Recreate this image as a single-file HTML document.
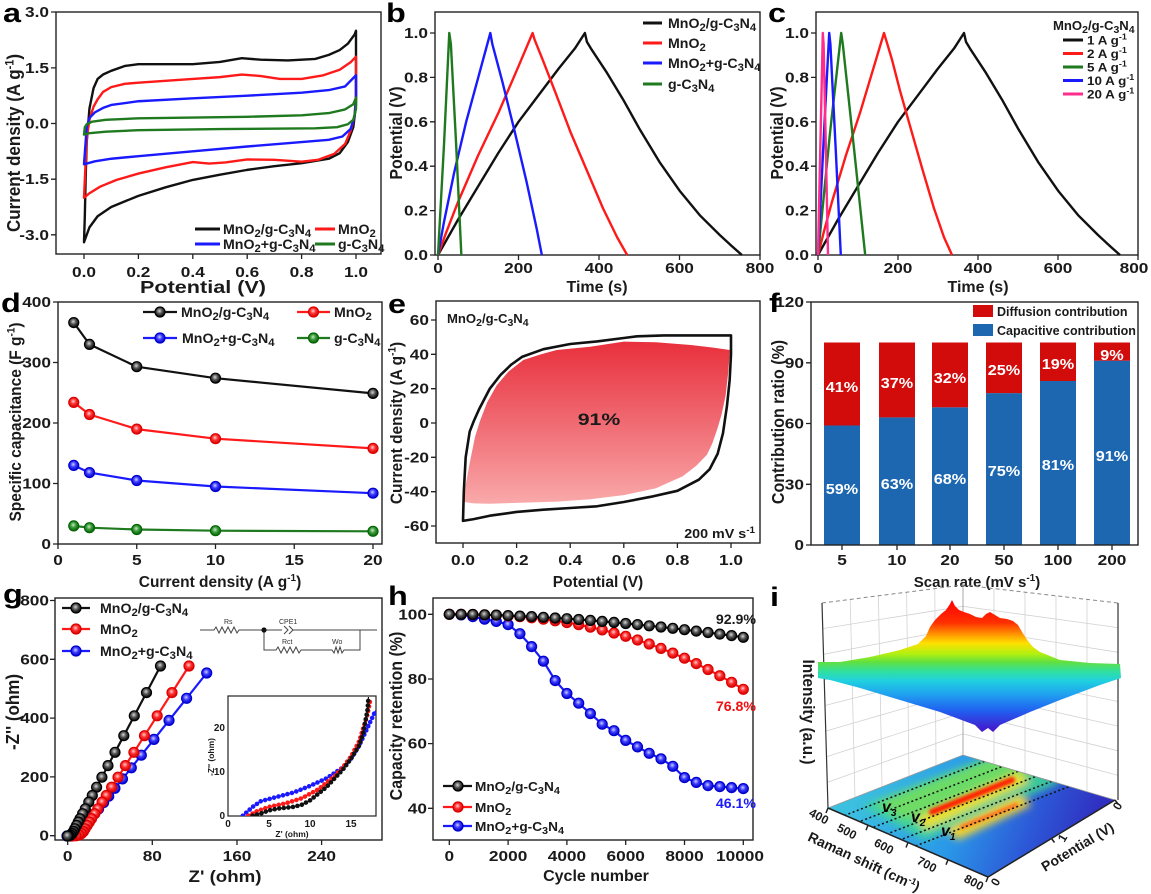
<!DOCTYPE html>
<html><head><meta charset="utf-8">
<style>
html,body{margin:0;padding:0;background:#fff;overflow:hidden}
svg{display:block}
text{font-family:"Liberation Sans",Arial,sans-serif;font-weight:bold;fill:#1a1a1a}
.tk{font-size:15px}
.pl{font-size:27px;fill:#000}
.ax{fill:none;stroke:#222;stroke-width:1.4}
.tm{fill:none;stroke:#222;stroke-width:1.3}
.ns{vector-effect:non-scaling-stroke;fill:none;stroke-width:2.4;stroke-linejoin:round}
.pk{fill:none;stroke-width:2.2;stroke-linejoin:round}
.lgl{stroke-width:3}
</style></head><body>
<svg width="1151" height="894" viewBox="0 0 1151 894" xmlns="http://www.w3.org/2000/svg">
<defs>
<radialGradient id="gK" cx="0.45" cy="0.4" r="0.6"><stop offset="0" stop-color="#d8d8d8"/><stop offset="0.45" stop-color="#555"/><stop offset="1" stop-color="#000"/></radialGradient>
<radialGradient id="gR" cx="0.45" cy="0.4" r="0.6"><stop offset="0" stop-color="#ffd0d0"/><stop offset="0.45" stop-color="#ff3030"/><stop offset="1" stop-color="#d00000"/></radialGradient>
<radialGradient id="gB" cx="0.45" cy="0.4" r="0.6"><stop offset="0" stop-color="#d0d0ff"/><stop offset="0.45" stop-color="#3a3aff"/><stop offset="1" stop-color="#0000c8"/></radialGradient>
<radialGradient id="gG" cx="0.45" cy="0.4" r="0.6"><stop offset="0" stop-color="#c8e8c8"/><stop offset="0.45" stop-color="#3a9a3a"/><stop offset="1" stop-color="#0a600a"/></radialGradient>
<marker id="mK" viewBox="-7 -7 14 14" markerWidth="14" markerHeight="14" markerUnits="userSpaceOnUse" refX="0" refY="0"><circle r="5" fill="url(#gK)" stroke="#000" stroke-width="1.2"/></marker>
<marker id="mR" viewBox="-7 -7 14 14" markerWidth="14" markerHeight="14" markerUnits="userSpaceOnUse" refX="0" refY="0"><circle r="5" fill="url(#gR)" stroke="#d00" stroke-width="1.2"/></marker>
<marker id="mB" viewBox="-7 -7 14 14" markerWidth="14" markerHeight="14" markerUnits="userSpaceOnUse" refX="0" refY="0"><circle r="5" fill="url(#gB)" stroke="#00c" stroke-width="1.2"/></marker>
<marker id="mG" viewBox="-7 -7 14 14" markerWidth="14" markerHeight="14" markerUnits="userSpaceOnUse" refX="0" refY="0"><circle r="5" fill="url(#gG)" stroke="#060" stroke-width="1.2"/></marker>
<linearGradient id="eg" x1="0" y1="0" x2="0" y2="1"><stop offset="0" stop-color="#f9a9aa"/><stop offset="0.5" stop-color="#f06a72"/><stop offset="1" stop-color="#e8303c"/></linearGradient>
<linearGradient id="fl" gradientUnits="userSpaceOnUse" x1="860" y1="780" x2="1080" y2="860"><stop offset="0" stop-color="#3cc0e0"/><stop offset="0.45" stop-color="#2a98e8"/><stop offset="0.75" stop-color="#2c5ad8"/><stop offset="1" stop-color="#3030c0"/></linearGradient>
<linearGradient id="sg" gradientUnits="userSpaceOnUse" x1="0" y1="600" x2="0" y2="735"><stop offset="0" stop-color="#ff0000"/><stop offset="0.17" stop-color="#ff3000"/><stop offset="0.25" stop-color="#ff9000"/><stop offset="0.32" stop-color="#ffe000"/><stop offset="0.4" stop-color="#b0f010"/><stop offset="0.46" stop-color="#60e040"/><stop offset="0.53" stop-color="#30e0a0"/><stop offset="0.6" stop-color="#20d0e0"/><stop offset="0.7" stop-color="#20a0f0"/><stop offset="0.82" stop-color="#2060f0"/><stop offset="0.95" stop-color="#4020d0"/><stop offset="1" stop-color="#6010c0"/></linearGradient>
<clipPath id="fc"><polygon points="828,808 963,755 1115,800 988,877"/></clipPath>
<clipPath id="ic"><rect x="228" y="696" width="148" height="120"/></clipPath>
<filter id="bl" x="-20%" y="-20%" width="140%" height="140%"><feGaussianBlur stdDeviation="4"/></filter>
<filter id="bl2" x="-20%" y="-50%" width="140%" height="200%"><feGaussianBlur stdDeviation="1.5"/></filter>
</defs>
<rect width="1151" height="894" fill="#fff"/>

<!-- ================= PANEL A ================= -->
<text class="pl" transform="translate(3,22) scale(1.2,1)">a</text>
<rect class="ax" x="56" y="12" width="325" height="242"/>
<path class="tm" d="M51,12H56M51,67.9H56M51,123.5H56M51,179.2H56M51,234.8H56M84,254V259M138.4,254V259M192.8,254V259M247.2,254V259M301.6,254V259M356,254V259"/>
<g class="tk" text-anchor="end">
<text transform="translate(49,17) scale(1.15,1)">3.0</text>
<text transform="translate(49,72.9) scale(1.15,1)">1.5</text>
<text transform="translate(49,128.5) scale(1.15,1)">0.0</text>
<text transform="translate(49,184.2) scale(1.15,1)">-1.5</text>
<text transform="translate(49,239.8) scale(1.15,1)">-3.0</text>
</g>
<g class="tk" text-anchor="middle">
<text transform="translate(84,277) scale(1.15,1)">0.0</text>
<text transform="translate(138.4,277) scale(1.15,1)">0.2</text>
<text transform="translate(192.8,277) scale(1.15,1)">0.4</text>
<text transform="translate(247.2,277) scale(1.15,1)">0.6</text>
<text transform="translate(301.6,277) scale(1.15,1)">0.8</text>
<text transform="translate(356,277) scale(1.15,1)">1.0</text>
</g>
<text font-size="18" text-anchor="middle" transform="translate(203,293) scale(1.2,1)">Potential (V)</text>
<text font-size="17" text-anchor="middle" transform="translate(20,143) rotate(-90) scale(1,1.1)">Current density (A g<tspan dy="-6" font-size="11">-1</tspan><tspan dy="6">)</tspan></text>
<g transform="translate(84,123.5) scale(272,-37.1)">
<path class="ns" stroke="#111" d="M0,-3.2 L0.003,-2.5 L0.006,-1.5 L0.01,-0.5 L0.02,0.4 L0.035,0.95 L0.05,1.2 L0.07,1.32 L0.1,1.42 L0.15,1.55 L0.2,1.6 L0.3,1.6 L0.4,1.6 L0.5,1.66 L0.58,1.76 L0.65,1.72 L0.75,1.7 L0.85,1.74 L0.9,1.85 L0.94,1.98 L0.97,2.15 L0.995,2.4 L1,2.5 L1,1.5 L1,0.5 L0.99,-0.1 L0.97,-0.5 L0.94,-0.8 L0.9,-0.95 L0.8,-1.07 L0.7,-1.15 L0.6,-1.25 L0.5,-1.38 L0.4,-1.52 L0.3,-1.72 L0.2,-1.95 L0.15,-2.1 L0.1,-2.25 L0.05,-2.5 L0.02,-2.8 L0.005,-3.1 L0,-3.2 Z"/>
<path class="ns" stroke="#ff1a1a" d="M0,-2 L0.005,-1.2 L0.01,-0.4 L0.02,0.1 L0.035,0.45 L0.05,0.65 L0.07,0.85 L0.1,0.98 L0.15,1.07 L0.2,1.1 L0.3,1.15 L0.4,1.2 L0.5,1.25 L0.58,1.32 L0.65,1.28 L0.72,1.2 L0.8,1.2 L0.88,1.3 L0.94,1.45 L0.98,1.65 L1,1.8 L1,0.8 L0.995,0.2 L0.98,-0.2 L0.96,-0.55 L0.92,-0.82 L0.86,-0.98 L0.8,-1.03 L0.7,-0.98 L0.6,-0.97 L0.52,-1.05 L0.46,-1.08 L0.4,-1.04 L0.3,-1.18 L0.2,-1.35 L0.12,-1.52 L0.06,-1.7 L0.02,-1.88 L0,-2 Z"/>
<path class="ns" stroke="#1a1aff" d="M0,-1.1 L0.005,-0.6 L0.01,-0.1 L0.02,0.15 L0.04,0.3 L0.07,0.42 L0.1,0.5 L0.2,0.6 L0.4,0.68 L0.6,0.75 L0.8,0.83 L0.9,0.9 L0.96,1 L1,1.3 L1,0.7 L0.995,0.2 L0.98,-0.15 L0.95,-0.35 L0.9,-0.44 L0.8,-0.5 L0.6,-0.62 L0.4,-0.75 L0.2,-0.88 L0.1,-0.95 L0.04,-1.02 L0.01,-1.08 L0,-1.1 Z"/>
<path class="ns" stroke="#1f7a1f" d="M0,-0.3 L0.003,-0.1 L0.01,-0.02 L0.03,0.05 L0.08,0.1 L0.2,0.14 L0.4,0.16 L0.6,0.18 L0.8,0.22 L0.9,0.28 L0.96,0.38 L0.99,0.52 L1,0.7 L1,0.4 L0.99,0.1 L0.97,-0.02 L0.93,-0.1 L0.85,-0.13 L0.5,-0.15 L0.2,-0.18 L0.08,-0.22 L0.02,-0.26 L0,-0.3 Z"/>
</g>
<line class="lgl" x1="195" y1="229" x2="220" y2="229" stroke="#111"/>
<line class="lgl" x1="315" y1="229" x2="335" y2="229" stroke="#ff1a1a"/>
<line class="lgl" x1="195" y1="244" x2="220" y2="244" stroke="#1a1aff"/>
<line class="lgl" x1="315" y1="244" x2="335" y2="244" stroke="#1f7a1f"/>
<g font-size="13.5">
<text transform="translate(223,234) scale(1.05,1)">MnO<tspan dy="3" font-size="80%">2</tspan><tspan dy="-3">/g-C</tspan><tspan dy="3" font-size="80%">3</tspan><tspan dy="-3">N</tspan><tspan dy="3" font-size="80%">4</tspan></text>
<text transform="translate(338,234) scale(1.05,1)">MnO<tspan dy="3" font-size="80%">2</tspan></text>
<text transform="translate(223,249) scale(1.05,1)">MnO<tspan dy="3" font-size="80%">2</tspan><tspan dy="-3">+g-C</tspan><tspan dy="3" font-size="80%">3</tspan><tspan dy="-3">N</tspan><tspan dy="3" font-size="80%">4</tspan></text>
<text transform="translate(338,249) scale(1.05,1)">g-C<tspan dy="3" font-size="80%">3</tspan><tspan dy="-3">N</tspan><tspan dy="3" font-size="80%">4</tspan></text>
</g>

<!-- ================= PANEL B ================= -->
<text class="pl" transform="translate(386,22) scale(1.2,1)">b</text>
<rect class="ax" x="435" y="12" width="325" height="243"/>
<path class="tm" d="M430,255H435M430,210.6H435M430,166.2H435M430,121.8H435M430,77.4H435M430,33H435M438,255V260M518.5,255V260M599,255V260M679.5,255V260M760,255V260"/>
<g class="tk" text-anchor="end">
<text transform="translate(428,260) scale(1.15,1)">0.0</text>
<text transform="translate(428,215.6) scale(1.15,1)">0.2</text>
<text transform="translate(428,171.2) scale(1.15,1)">0.4</text>
<text transform="translate(428,126.8) scale(1.15,1)">0.6</text>
<text transform="translate(428,82.4) scale(1.15,1)">0.8</text>
<text transform="translate(428,38) scale(1.15,1)">1.0</text>
</g>
<g class="tk" text-anchor="middle">
<text transform="translate(438,273) scale(1.15,1)">0</text>
<text transform="translate(518.5,273) scale(1.15,1)">200</text>
<text transform="translate(599,273) scale(1.15,1)">400</text>
<text transform="translate(679.5,273) scale(1.15,1)">600</text>
<text transform="translate(760,273) scale(1.15,1)">800</text>
</g>
<text font-size="16" text-anchor="middle" transform="translate(597,292)">Time (s)</text>
<text font-size="16" text-anchor="middle" transform="translate(402,133) rotate(-90) scale(1,1.1)">Potential (V)</text>
<g transform="translate(438,255) scale(0.4025,-222)">
<path class="ns" stroke="#111" d="M0,0 L50,0.16 L100,0.31 L150,0.46 L200,0.6 L250,0.72 L300,0.84 L340,0.93 L365,1 L370,0.96 L380,0.93 L420,0.82 L460,0.7 L500,0.57 L550,0.42 L600,0.29 L650,0.18 L700,0.09 L730,0.04 L755,0"/>
<path class="ns" stroke="#ff1a1a" d="M0,0 L20,0.1 L50,0.24 L100,0.45 L150,0.64 L200,0.85 L235,1 L240,0.97 L260,0.88 L290,0.74 L330,0.55 L370,0.38 L410,0.21 L445,0.08 L470,0"/>
<path class="ns" stroke="#1a1aff" d="M0,0 L15,0.15 L40,0.37 L70,0.6 L100,0.8 L130,1 L135,0.95 L160,0.78 L190,0.56 L220,0.33 L245,0.12 L258,0"/>
<path class="ns" stroke="#1f7a1f" d="M0,0 L15,0.5 L28,1 L32,0.95 L45,0.5 L58,0"/>
</g>
<line class="lgl" x1="643" y1="23" x2="662" y2="23" stroke="#111"/>
<line class="lgl" x1="643" y1="43" x2="662" y2="43" stroke="#ff1a1a"/>
<line class="lgl" x1="643" y1="63" x2="662" y2="63" stroke="#1a1aff"/>
<line class="lgl" x1="643" y1="84" x2="662" y2="84" stroke="#1f7a1f"/>
<g font-size="13.5">
<text transform="translate(668,28) scale(1.05,1)">MnO<tspan dy="3" font-size="80%">2</tspan><tspan dy="-3">/g-C</tspan><tspan dy="3" font-size="80%">3</tspan><tspan dy="-3">N</tspan><tspan dy="3" font-size="80%">4</tspan></text>
<text transform="translate(668,48) scale(1.05,1)">MnO<tspan dy="3" font-size="80%">2</tspan></text>
<text transform="translate(668,68) scale(1.05,1)">MnO<tspan dy="3" font-size="80%">2</tspan><tspan dy="-3">+g-C</tspan><tspan dy="3" font-size="80%">3</tspan><tspan dy="-3">N</tspan><tspan dy="3" font-size="80%">4</tspan></text>
<text transform="translate(668,89) scale(1.05,1)">g-C<tspan dy="3" font-size="80%">3</tspan><tspan dy="-3">N</tspan><tspan dy="3" font-size="80%">4</tspan></text>
</g>

<!-- ================= PANEL C ================= -->
<text class="pl" transform="translate(768,22) scale(1.2,1)">c</text>
<rect class="ax" x="816" y="12" width="322" height="243"/>
<path class="tm" d="M811,255H816M811,210.6H816M811,166.2H816M811,121.8H816M811,77.4H816M811,33H816M818,255V260M898,255V260M978,255V260M1058,255V260M1138,255V260"/>
<g class="tk" text-anchor="end">
<text transform="translate(809,260) scale(1.15,1)">0.0</text>
<text transform="translate(809,215.6) scale(1.15,1)">0.2</text>
<text transform="translate(809,171.2) scale(1.15,1)">0.4</text>
<text transform="translate(809,126.8) scale(1.15,1)">0.6</text>
<text transform="translate(809,82.4) scale(1.15,1)">0.8</text>
<text transform="translate(809,38) scale(1.15,1)">1.0</text>
</g>
<g class="tk" text-anchor="middle">
<text transform="translate(818,273) scale(1.15,1)">0</text>
<text transform="translate(898,273) scale(1.15,1)">200</text>
<text transform="translate(978,273) scale(1.15,1)">400</text>
<text transform="translate(1058,273) scale(1.15,1)">600</text>
<text transform="translate(1134,273) scale(1.15,1)">800</text>
</g>
<text font-size="16" text-anchor="middle" transform="translate(978,292)">Time (s)</text>
<text font-size="16" text-anchor="middle" transform="translate(783,133) rotate(-90) scale(1,1.1)">Potential (V)</text>
<g transform="translate(818,255) scale(0.4,-222)">
<path class="ns" stroke="#111" d="M0,0 L50,0.16 L100,0.31 L150,0.46 L200,0.6 L250,0.72 L300,0.84 L340,0.93 L365,1 L370,0.96 L380,0.93 L420,0.82 L460,0.7 L500,0.57 L550,0.42 L600,0.29 L650,0.18 L700,0.09 L730,0.04 L755,0"/>
<path class="ns" stroke="#ff1a1a" d="M0,0 L14,0.1 L35,0.24 L70,0.45 L105,0.64 L140,0.85 L165,1 L170,0.97 L185,0.88 L205,0.74 L235,0.55 L262,0.38 L290,0.21 L315,0.08 L335,0"/>
<path class="ns" stroke="#1f7a1f" d="M0,0 L30,0.55 L58,1 L62,0.95 L90,0.48 L118,0"/>
<path class="ns" stroke="#1a1aff" d="M0,0 L15,0.55 L28,1 L31,0.95 L45,0.45 L57,0"/>
<path class="ns" stroke="#ff2d8c" d="M0,0 L6,0.5 L12,1 L14,0.95 L20,0.45 L25,0"/>
</g>
<text font-size="12.5" transform="translate(1053,30) scale(1.05,1)">MnO<tspan dy="3" font-size="80%">2</tspan><tspan dy="-3">/g-C</tspan><tspan dy="3" font-size="80%">3</tspan><tspan dy="-3">N</tspan><tspan dy="3" font-size="80%">4</tspan></text>
<line class="lgl" x1="1063" y1="40" x2="1083" y2="40" stroke="#111"/>
<line class="lgl" x1="1063" y1="53.5" x2="1083" y2="53.5" stroke="#ff1a1a"/>
<line class="lgl" x1="1063" y1="67" x2="1083" y2="67" stroke="#1f7a1f"/>
<line class="lgl" x1="1063" y1="80.5" x2="1083" y2="80.5" stroke="#1a1aff"/>
<line class="lgl" x1="1063" y1="94" x2="1083" y2="94" stroke="#ff2d8c"/>
<g font-size="12">
<text transform="translate(1087,44.5) scale(1.12,1)">1 A g<tspan dy="-5" font-size="8">-1</tspan></text>
<text transform="translate(1087,58) scale(1.12,1)">2 A g<tspan dy="-5" font-size="8">-1</tspan></text>
<text transform="translate(1087,71.5) scale(1.12,1)">5 A g<tspan dy="-5" font-size="8">-1</tspan></text>
<text transform="translate(1087,85) scale(1.12,1)">10 A g<tspan dy="-5" font-size="8">-1</tspan></text>
<text transform="translate(1087,98.5) scale(1.12,1)">20 A g<tspan dy="-5" font-size="8">-1</tspan></text>
</g>

<!-- ================= PANEL D ================= -->
<text class="pl" transform="translate(1,312) scale(1.2,1)">d</text>
<rect class="ax" x="58" y="302" width="324" height="242"/>
<path class="tm" d="M53,544H58M53,483.5H58M53,423H58M53,362.5H58M53,302H58M58,544V549M136.75,544V549M215.5,544V549M294.25,544V549M373,544V549"/>
<g class="tk" text-anchor="end">
<text transform="translate(51,549) scale(1.15,1)">0</text>
<text transform="translate(51,488.5) scale(1.15,1)">100</text>
<text transform="translate(51,428) scale(1.15,1)">200</text>
<text transform="translate(51,367.5) scale(1.15,1)">300</text>
<text transform="translate(51,307) scale(1.15,1)">400</text>
</g>
<g class="tk" text-anchor="middle">
<text transform="translate(58,565) scale(1.15,1)">0</text>
<text transform="translate(136.75,565) scale(1.15,1)">5</text>
<text transform="translate(215.5,565) scale(1.15,1)">10</text>
<text transform="translate(294.25,565) scale(1.15,1)">15</text>
<text transform="translate(373,565) scale(1.15,1)">20</text>
</g>
<text font-size="15.5" text-anchor="middle" transform="translate(220,587)">Current density (A g<tspan dy="-6" font-size="10">-1</tspan><tspan dy="6">)</tspan></text>
<text font-size="15.5" text-anchor="middle" transform="translate(21,422) rotate(-90) scale(1,1.1)">Specific capacitance (F g<tspan dy="-6" font-size="10">-1</tspan><tspan dy="6">)</tspan></text>
<polyline class="pk" stroke="#111" marker-start="url(#mK)" marker-mid="url(#mK)" marker-end="url(#mK)" points="73.75,322.6 89.5,344.4 136.75,366.7 215.5,378.2 373,393.4"/>
<polyline class="pk" stroke="#ff1a1a" marker-start="url(#mR)" marker-mid="url(#mR)" marker-end="url(#mR)" points="73.75,402.4 89.5,414.5 136.75,429.1 215.5,438.7 373,448.4"/>
<polyline class="pk" stroke="#1a1aff" marker-start="url(#mB)" marker-mid="url(#mB)" marker-end="url(#mB)" points="73.75,465.4 89.5,472.6 136.75,480.5 215.5,486.5 373,493.2"/>
<polyline class="pk" stroke="#1f7a1f" marker-start="url(#mG)" marker-mid="url(#mG)" marker-end="url(#mG)" points="73.75,525.9 89.5,527.7 136.75,529.5 215.5,530.7 373,531.3"/>
<polyline class="pk" stroke="#111" marker-mid="url(#mK)" points="143,312 160,312 177,312"/>
<polyline class="pk" stroke="#ff1a1a" marker-mid="url(#mR)" points="297,312 313.5,312 330,312"/>
<polyline class="pk" stroke="#1a1aff" marker-mid="url(#mB)" points="143,338 160,338 177,338"/>
<polyline class="pk" stroke="#1f7a1f" marker-mid="url(#mG)" points="297,338 313.5,338 330,338"/>
<g font-size="13.5">
<text transform="translate(181,317) scale(1.05,1)">MnO<tspan dy="3" font-size="80%">2</tspan><tspan dy="-3">/g-C</tspan><tspan dy="3" font-size="80%">3</tspan><tspan dy="-3">N</tspan><tspan dy="3" font-size="80%">4</tspan></text>
<text transform="translate(334,317) scale(1.05,1)">MnO<tspan dy="3" font-size="80%">2</tspan></text>
<text transform="translate(182,343) scale(1.05,1)">MnO<tspan dy="3" font-size="80%">2</tspan><tspan dy="-3">+g-C</tspan><tspan dy="3" font-size="80%">3</tspan><tspan dy="-3">N</tspan><tspan dy="3" font-size="80%">4</tspan></text>
<text transform="translate(334,343) scale(1.05,1)">g-C<tspan dy="3" font-size="80%">3</tspan><tspan dy="-3">N</tspan><tspan dy="3" font-size="80%">4</tspan></text>
</g>

<!-- ================= PANEL E ================= -->
<text class="pl" transform="translate(388,313) scale(1.2,1)">e</text>
<rect class="ax" x="436" y="301" width="324" height="242"/>
<path class="tm" d="M431,320H436M431,354.3H436M431,388.7H436M431,423H436M431,457.3H436M431,491.7H436M431,526H436M463,543V548M516.6,543V548M570.2,543V548M623.8,543V548M677.4,543V548M731,543V548"/>
<g class="tk" text-anchor="end">
<text transform="translate(429,325) scale(1.15,1)">60</text>
<text transform="translate(429,359.3) scale(1.15,1)">40</text>
<text transform="translate(429,393.7) scale(1.15,1)">20</text>
<text transform="translate(429,428) scale(1.15,1)">0</text>
<text transform="translate(429,462.3) scale(1.15,1)">-20</text>
<text transform="translate(429,496.7) scale(1.15,1)">-40</text>
<text transform="translate(429,531) scale(1.15,1)">-60</text>
</g>
<g class="tk" text-anchor="middle">
<text transform="translate(463,565) scale(1.15,1)">0.0</text>
<text transform="translate(516.6,565) scale(1.15,1)">0.2</text>
<text transform="translate(570.2,565) scale(1.15,1)">0.4</text>
<text transform="translate(623.8,565) scale(1.15,1)">0.6</text>
<text transform="translate(677.4,565) scale(1.15,1)">0.8</text>
<text transform="translate(731,565) scale(1.15,1)">1.0</text>
</g>
<text font-size="15.5" text-anchor="middle" transform="translate(598,587)">Potential (V)</text>
<text font-size="15.5" text-anchor="middle" transform="translate(402,423) rotate(-90) scale(1,1.1)">Current density (A g<tspan dy="-6" font-size="10">-1</tspan><tspan dy="6">)</tspan></text>
<g transform="translate(463,423) scale(268,-1.717)">
<path fill="url(#eg)" stroke="none" d="M0.004,-46 L0.01,-36 L0.026,-22.5 L0.045,-8 L0.063,1 L0.09,12 L0.126,22 L0.17,30 L0.225,36.7 L0.29,40 L0.35,42.5 L0.474,44.4 L0.6,47.4 L0.72,47 L0.85,45.4 L0.93,44 L0.996,42.5 L0.99,30 L0.98,16 L0.965,5 L0.95,-3 L0.93,-12 L0.91,-18.6 L0.87,-25 L0.82,-31 L0.72,-38 L0.6,-42 L0.47,-44.5 L0.35,-45.8 L0.2,-46.5 L0.1,-47 L0.04,-46.8 Z"/>
<path class="ns" stroke="#111" style="stroke-width:2.6" d="M0,-57 L0.003,-40 L0.01,-20 L0.025,-5 L0.04,1 L0.06,8 L0.1,20 L0.14,28 L0.18,34 L0.22,38.5 L0.3,43 L0.4,46 L0.5,47.5 L0.6,49.5 L0.65,50.5 L0.75,51 L0.9,51 L1,51 L1,40 L0.995,25 L0.985,10 L0.97,-6 L0.95,-18 L0.92,-27 L0.88,-33 L0.8,-39.5 L0.7,-43 L0.6,-46 L0.5,-48.5 L0.4,-49.5 L0.3,-50.5 L0.2,-51.8 L0.1,-54 L0.04,-56 L0,-57 Z"/>
</g>
<text font-size="12.5" transform="translate(447,323) scale(1.05,1)">MnO<tspan dy="3" font-size="80%">2</tspan><tspan dy="-3">/g-C</tspan><tspan dy="3" font-size="80%">3</tspan><tspan dy="-3">N</tspan><tspan dy="3" font-size="80%">4</tspan></text>
<text font-size="17" text-anchor="middle" transform="translate(599,425) scale(1.25,1)">91%</text>
<text font-size="13" text-anchor="end" transform="translate(755,538) scale(1.1,1)">200 mV s<tspan dy="-5" font-size="9">-1</tspan></text>

<!-- ================= PANEL F ================= -->
<text class="pl" transform="translate(769,312) scale(1.2,1)">f</text>
<g fill="#1d67b1">
<rect x="824" y="425.5" width="36" height="119.5"/>
<rect x="879" y="417.4" width="36" height="127.6"/>
<rect x="932" y="407.3" width="36" height="137.7"/>
<rect x="986" y="393.1" width="36" height="151.9"/>
<rect x="1040" y="381" width="36" height="164"/>
<rect x="1094" y="360.7" width="36" height="184.3"/>
</g>
<g fill="#d20b0b">
<rect x="824" y="342.5" width="36" height="83"/>
<rect x="879" y="342.5" width="36" height="74.9"/>
<rect x="932" y="342.5" width="36" height="64.8"/>
<rect x="986" y="342.5" width="36" height="50.6"/>
<rect x="1040" y="342.5" width="36" height="38.5"/>
<rect x="1094" y="342.5" width="36" height="18.2"/>
</g>
<rect class="ax" x="811" y="302" width="327" height="243"/>
<path class="tm" d="M806,545H811M806,484.3H811M806,423.5H811M806,362.8H811M806,302H811M842,545V550M897,545V550M950,545V550M1004,545V550M1058,545V550M1112,545V550"/>
<g class="tk" text-anchor="end">
<text transform="translate(804,550) scale(1.15,1)">0</text>
<text transform="translate(804,489.3) scale(1.15,1)">30</text>
<text transform="translate(804,428.5) scale(1.15,1)">60</text>
<text transform="translate(804,367.8) scale(1.15,1)">90</text>
<text transform="translate(804,307) scale(1.15,1)">120</text>
</g>
<g class="tk" text-anchor="middle">
<text transform="translate(842,565) scale(1.15,1)">5</text>
<text transform="translate(897,565) scale(1.15,1)">10</text>
<text transform="translate(950,565) scale(1.15,1)">20</text>
<text transform="translate(1004,565) scale(1.15,1)">50</text>
<text transform="translate(1058,565) scale(1.15,1)">100</text>
<text transform="translate(1112,565) scale(1.15,1)">200</text>
</g>
<text font-size="15" text-anchor="middle" transform="translate(977,587)">Scan rate (mV s<tspan dy="-6" font-size="10">-1</tspan><tspan dy="6">)</tspan></text>
<text font-size="16" text-anchor="middle" transform="translate(784,422) rotate(-90) scale(1,1.1)">Contribution ratio (%)</text>
<g font-size="15" text-anchor="middle">
<text style="fill:#fff" transform="translate(842,392) scale(1.08,1)">41%</text>
<text style="fill:#fff" transform="translate(897,388) scale(1.08,1)">37%</text>
<text style="fill:#fff" transform="translate(950,383) scale(1.08,1)">32%</text>
<text style="fill:#fff" transform="translate(1004,375) scale(1.08,1)">25%</text>
<text style="fill:#fff" transform="translate(1058,369) scale(1.08,1)">19%</text>
<text style="fill:#fff" transform="translate(1112,360) scale(1.08,1)">9%</text>
<text style="fill:#fff" transform="translate(842,494) scale(1.08,1)">59%</text>
<text style="fill:#fff" transform="translate(897,489) scale(1.08,1)">63%</text>
<text style="fill:#fff" transform="translate(950,484) scale(1.08,1)">68%</text>
<text style="fill:#fff" transform="translate(1004,476) scale(1.08,1)">75%</text>
<text style="fill:#fff" transform="translate(1058,470) scale(1.08,1)">81%</text>
<text style="fill:#fff" transform="translate(1112,461) scale(1.08,1)">91%</text>
</g>
<rect x="973" y="305" width="20" height="12" fill="#d20b0b"/>
<rect x="973" y="324" width="20" height="12" fill="#1d67b1"/>
<text font-size="12.5" transform="translate(997,316)">Diffusion contribution</text>
<text font-size="12.5" transform="translate(997,335)">Capacitive contribution</text>

<!-- ================= PANEL G ================= -->
<text class="pl" transform="translate(3,603) scale(1.2,1)">g</text>
<rect class="ax" x="55" y="598" width="327" height="242"/>
<path class="tm" d="M50,835.7H55M50,776.9H55M50,718.1H55M50,659.3H55M50,600.5H55M67.7,840V845M152.3,840V845M237,840V845M321.6,840V845"/>
<g class="tk" text-anchor="end">
<text transform="translate(49,840.7) scale(1.15,1)">0</text>
<text transform="translate(49,781.9) scale(1.15,1)">200</text>
<text transform="translate(49,723.1) scale(1.15,1)">400</text>
<text transform="translate(49,664.3) scale(1.15,1)">600</text>
<text transform="translate(49,605.5) scale(1.15,1)">800</text>
</g>
<g class="tk" text-anchor="middle">
<text transform="translate(67.7,861) scale(1.15,1)">0</text>
<text transform="translate(152.3,861) scale(1.15,1)">80</text>
<text transform="translate(237,861) scale(1.15,1)">160</text>
<text transform="translate(321.6,861) scale(1.15,1)">240</text>
</g>
<text font-size="17" text-anchor="middle" transform="translate(225,882) scale(1.1,1)">Z' (ohm)</text>
<text font-size="17" text-anchor="middle" transform="translate(19,712) rotate(-90) scale(1,1.1)">-Z'' (ohm)</text>
<polyline class="pk" stroke="#1a1aff" marker-start="url(#mB)" marker-mid="url(#mB)" marker-end="url(#mB)" points="206.7,673 186.6,698.3 169,720.4 153.9,739.4 141.3,755.2 131.3,767.8 122.5,778.9 114.9,788.3 108.7,796.2 103.6,802.6 98.6,808.9 94.8,813.6 91.1,818.4 88.5,821.5 86,824.7 83.5,827.8 81.5,830.5 79,833 76,834.8 73,835.6 70,836 67,836"/>
<polyline class="pk" stroke="#ff1a1a" marker-start="url(#mR)" marker-mid="url(#mR)" marker-end="url(#mR)" points="189,666 172,692.6 157.2,715.8 144.5,735.7 133.9,752.3 125.4,765.6 118,777.2 111.6,787.2 106.3,795.5 102.1,802.1 97.8,808.8 94.7,813.7 91.5,818.7 89.4,822 87.2,825.4 85.1,828.7 83.5,831.5 81.5,833.5 79,835 76,835.8 72,836"/>
<polyline class="pk" stroke="#111" marker-start="url(#mK)" marker-mid="url(#mK)" marker-end="url(#mK)" points="160.5,666 146.5,692.6 134.3,715.8 123.8,735.7 115,752.3 108,765.6 101.9,777.2 96.6,787.2 92.3,795.5 88.8,802.1 85.3,808.8 82.6,813.7 80,818.7 78.3,822 76.5,825.4 74.8,828.7 73.5,831.5 72,833.5 70.5,835 69,835.8 67.5,836"/>
<polyline class="pk" stroke="#111" marker-mid="url(#mK)" points="62,608 76,608 90,608"/>
<polyline class="pk" stroke="#ff1a1a" marker-mid="url(#mR)" points="62,629 76,629 90,629"/>
<polyline class="pk" stroke="#1a1aff" marker-mid="url(#mB)" points="62,651 76,651 90,651"/>
<g font-size="13.5">
<text transform="translate(100,613) scale(1.05,1)">MnO<tspan dy="3" font-size="80%">2</tspan><tspan dy="-3">/g-C</tspan><tspan dy="3" font-size="80%">3</tspan><tspan dy="-3">N</tspan><tspan dy="3" font-size="80%">4</tspan></text>
<text transform="translate(100,634) scale(1.05,1)">MnO<tspan dy="3" font-size="80%">2</tspan></text>
<text transform="translate(100,656) scale(1.05,1)">MnO<tspan dy="3" font-size="80%">2</tspan><tspan dy="-3">+g-C</tspan><tspan dy="3" font-size="80%">3</tspan><tspan dy="-3">N</tspan><tspan dy="3" font-size="80%">4</tspan></text>
</g>
<!-- circuit -->
<g fill="none" stroke="#444" stroke-width="1">
<path d="M200,630H214 l2,-3 l3,6 l3,-6 l3,6 l3,-6 l3,6 l3,-6 l3,6 l2,-3 H282 M284,626 l4,4 l-4,4 M289,626 l4,4 l-4,4 M293,630 H377"/>
<path d="M264,630 V650 H276 l2,-3 l3,6 l3,-6 l3,6 l3,-6 l3,6 l3,-6 l3,6 l2,-3 H332 l2,3 l2,-6 l2,6 l2,-6 l2,6 l2,-3 H360 V630"/>
</g>
<circle cx="264" cy="630" r="2.6" fill="#111"/>
<g font-size="7">
<text x="224" y="624" style="font-weight:normal;fill:#333">Rs</text>
<text x="279" y="624" style="font-weight:normal;fill:#333">CPE1</text>
<text x="282" y="644" style="font-weight:normal;fill:#333">Rct</text>
<text x="332" y="644" style="font-weight:normal;fill:#333">Wo</text>
</g>
<!-- inset -->
<rect x="228" y="696" width="148" height="120" fill="#fff" stroke="#222" stroke-width="1.2"/>
<g clip-path="url(#ic)">
<g fill="none" stroke-linejoin="round">
<polyline stroke="#1a1aff" stroke-width="1.2" points="242.8,815.7 252.6,806.9 260.8,801.2 277.2,796.8 293.6,792.5 310,785.9 326.4,778.4 342.8,767.5 351,758.7 359.2,745.5 367.4,728 375.6,710.5"/>
<polyline stroke="#1a1aff" stroke-width="4.6" stroke-linecap="round" stroke-dasharray="0.01,4.6" points="242.8,815.7 252.6,806.9 260.8,801.2 277.2,796.8 293.6,792.5 310,785.9 326.4,778.4 342.8,767.5 351,758.7 359.2,745.5 367.4,728 375.6,710.5"/>
<polyline stroke="#ff1a1a" stroke-width="1.2" points="248.5,815.7 256.7,811.3 269,806.9 285.4,803.4 301.8,798.2 318.2,789.4 334.6,776.2 342.8,767.5 351,756.5 359.2,741.2 367.4,714.8 369.9,701.7"/>
<polyline stroke="#ff1a1a" stroke-width="4.6" stroke-linecap="round" stroke-dasharray="0.01,4.6" points="248.5,815.7 256.7,811.3 269,806.9 285.4,803.4 301.8,798.2 318.2,789.4 334.6,776.2 342.8,767.5 351,756.5 359.2,741.2 367.4,714.8 369.9,701.7"/>
<polyline stroke="#111" stroke-width="1.2" points="252.6,815.7 260.8,813.5 269,810.4 277.2,808.7 285.4,807.8 293.6,806.9 301.8,804.7 310,800.4 318.2,793.8 326.4,787.2 334.6,778.4 342.8,769.7 351,758.7 359.2,745.5 363.3,732.4 367.4,710.5 368.5,697"/>
<polyline stroke="#111" stroke-width="4.6" stroke-linecap="round" stroke-dasharray="0.01,4.6" points="252.6,815.7 260.8,813.5 269,810.4 277.2,808.7 285.4,807.8 293.6,806.9 301.8,804.7 310,800.4 318.2,793.8 326.4,787.2 334.6,778.4 342.8,769.7 351,758.7 359.2,745.5 363.3,732.4 367.4,710.5 368.5,697"/>
</g>
</g>
<g font-size="10" text-anchor="middle">
<text x="228" y="827">0</text><text x="269" y="827">5</text><text x="310" y="827">10</text><text x="351" y="827">15</text>
</g>
<g font-size="10" text-anchor="end">
<text x="225" y="819">0</text><text x="225" y="775">10</text><text x="225" y="731">20</text>
</g>
<text font-size="8.5" text-anchor="middle" x="292" y="837">Z' (ohm)</text>
<text font-size="8.5" text-anchor="middle" transform="translate(214,757) rotate(-90)">-Z'' (ohm)</text>

<!-- ================= PANEL H ================= -->
<text class="pl" transform="translate(388,605) scale(1.2,1)">h</text>
<rect class="ax" x="433" y="598" width="320" height="242"/>
<path class="tm" d="M428,808.3H433M428,743.6H433M428,679H433M428,614.3H433M449.3,840V845M508.1,840V845M566.9,840V845M625.7,840V845M684.5,840V845M743.3,840V845"/>
<g class="tk" text-anchor="end">
<text transform="translate(427,813.3) scale(1.15,1)">40</text>
<text transform="translate(427,748.6) scale(1.15,1)">60</text>
<text transform="translate(427,684) scale(1.15,1)">80</text>
<text transform="translate(427,619.3) scale(1.15,1)">100</text>
</g>
<g class="tk" text-anchor="middle">
<text transform="translate(449.3,861) scale(1.15,1)">0</text>
<text transform="translate(508.1,861) scale(1.15,1)">2000</text>
<text transform="translate(566.9,861) scale(1.15,1)">4000</text>
<text transform="translate(625.7,861) scale(1.15,1)">6000</text>
<text transform="translate(684.5,861) scale(1.15,1)">8000</text>
<text transform="translate(740,861) scale(1.15,1)">10000</text>
</g>
<text font-size="16" text-anchor="middle" transform="translate(596,881)">Cycle number</text>
<text font-size="16" text-anchor="middle" transform="translate(402,716) rotate(-90) scale(1,1.1)">Capacity retention (%)</text>
<polyline class="pk" stroke="#1a1aff" marker-start="url(#mB)" marker-mid="url(#mB)" marker-end="url(#mB)" points="449.3,614.3 461.1,614.9 472.8,616.6 484.6,619.2 496.3,621.4 508.1,624.6 519.9,633.7 531.6,646.6 543.4,661.2 555.2,680.6 566.9,693.5 578.7,703.2 590.4,713.6 602.2,724.2 614,730.7 625.7,740.4 637.5,746.9 649.2,753.3 661,758.8 672.8,766.3 684.5,777.6 696.3,782.4 708,785.6 719.8,786.6 731.6,787.6 743.3,788.6"/>
<polyline class="pk" stroke="#ff1a1a" marker-start="url(#mR)" marker-mid="url(#mR)" marker-end="url(#mR)" points="449.3,614.3 461.1,614.3 472.8,614.5 484.6,614.8 496.3,615.2 508.1,615.9 519.9,616.7 531.6,617.8 543.4,619.2 555.2,620.8 566.9,622.6 578.7,624.7 590.4,627.2 602.2,629.9 614,633 625.7,636.3 637.5,640 649.2,644 661,648.4 672.8,653.1 684.5,658.2 696.3,663.6 708,669.5 719.8,675.7 731.6,682.3 743.3,689.3"/>
<polyline class="pk" stroke="#111" marker-start="url(#mK)" marker-mid="url(#mK)" marker-end="url(#mK)" points="449.3,614.3 461.1,614.4 472.8,614.5 484.6,614.8 496.3,615.1 508.1,615.6 519.9,616.1 531.6,616.6 543.4,617.3 555.2,618 566.9,618.7 578.7,619.5 590.4,620.4 602.2,621.4 614,622.4 625.7,623.5 637.5,624.6 649.2,625.8 661,627 672.8,628.3 684.5,629.7 696.3,631.1 708,632.5 719.8,634.1 731.6,635.6 743.3,637.3"/>
<text font-size="13.5" text-anchor="end" transform="translate(756,624) scale(1.05,1)">92.9%</text>
<text font-size="13.5" text-anchor="end" transform="translate(756,711) scale(1.05,1)" style="fill:#f01010">76.8%</text>
<text font-size="13.5" text-anchor="end" transform="translate(756,808) scale(1.05,1)" style="fill:#1a1aff">46.1%</text>
<polyline class="pk" stroke="#111" marker-mid="url(#mK)" points="443,786 458,786 472,786"/>
<polyline class="pk" stroke="#ff1a1a" marker-mid="url(#mR)" points="443,807 458,807 472,807"/>
<polyline class="pk" stroke="#1a1aff" marker-mid="url(#mB)" points="443,826 458,826 472,826"/>
<g font-size="13">
<text transform="translate(475,791) scale(1.05,1)">MnO<tspan dy="3" font-size="80%">2</tspan><tspan dy="-3">/g-C</tspan><tspan dy="3" font-size="80%">3</tspan><tspan dy="-3">N</tspan><tspan dy="3" font-size="80%">4</tspan></text>
<text transform="translate(475,812) scale(1.05,1)">MnO<tspan dy="3" font-size="80%">2</tspan></text>
<text transform="translate(475,831) scale(1.05,1)">MnO<tspan dy="3" font-size="80%">2</tspan><tspan dy="-3">+g-C</tspan><tspan dy="3" font-size="80%">3</tspan><tspan dy="-3">N</tspan><tspan dy="3" font-size="80%">4</tspan></text>
</g>

<!-- ================= PANEL I ================= -->
<text class="pl" transform="translate(770,606) scale(1.2,1)">i</text>
<path fill="none" stroke="#d2d2d2" stroke-width="0.8" d="M822.75,628.6L963,606.3M823.5,654.3L963,627.5M824.25,679.9L963,648.8M825,705.5L963,670M825.75,731.1L963,691.3M826.5,756.8L963,712.5M827.25,782.4L963,733.8M850.2,599.4L855,797.4M878.4,595.8L882,786.8M906.6,592.2L909,776.2M934.8,588.6L936,765.6M963,606.3L1118,627.6M963,627.5L1118,652.3M963,648.8L1118,676.9M963,670L1118,701.5M963,691.3L1118,726.1M963,712.5L1118,750.8M963,733.8L1118,775.4M994,588.6L994,764M1025,592.2L1025,773M1056,595.8L1056,782M1087,599.4L1087,791"/>
<path fill="none" stroke="#888" stroke-width="1" stroke-dasharray="4,3" d="M822,603L963,585L1118,603"/>
<path fill="none" stroke="#aaa" stroke-width="1" d="M963,585V755"/>
<path fill="none" stroke="#333" stroke-width="1.2" d="M822,603L828,808M1118,603L1118,800"/>
<!-- floor -->
<polygon points="828,808 963,755 1115,800 988,877" fill="url(#fl)"/>
<g clip-path="url(#fc)">
<g filter="url(#bl)">
<polygon points="862,806 1000,752 1062,782 925,840" fill="#40d890" opacity="0.85"/>
<polygon points="875,803 1003,754 1045,768 905,820" fill="#80e050" opacity="0.7"/>
<polygon points="915,818 1018,772 1030,782 926,830" fill="#e8e030"/>
<polygon points="945,830 1020,795 1032,805 958,840" fill="#f0d030"/>
</g>
<g filter="url(#bl2)">
<line x1="932" y1="812" x2="1012" y2="780" stroke="#ff1a00" stroke-width="6" stroke-linecap="round"/>
<line x1="962" y1="827" x2="1016" y2="805" stroke="#ff7020" stroke-width="4" stroke-linecap="round"/>
</g>
<path fill="none" stroke="#111" stroke-width="1.5" stroke-dasharray="2,2.5" d="M840,817.2L1100,716.6M840,829.2L1100,728.6M840,840.2L1100,739.6M840,852.2L1100,751.6M840,863.2L1100,762.6M840,875.2L1100,774.6"/>
</g>
<path fill="none" stroke="#999" stroke-width="0.8" d="M828,808L963,755L1115,800"/>
<path fill="none" stroke="#222" stroke-width="1.5" d="M828,808L988,877L1115,800M828,808l-2,5M868,825.25l-2,5M908,842.5l-2,5M948,859.75l-2,5M988,877l-2,5M1051.5,838.5l3,4M1115,800l3,4"/>
<!-- surface -->
<polygon fill="url(#sg)" points="818,662 840,662 870,657 900,650 918,644 926,636 930,627 935,620 941,614 946,610 950,604 952,600 955,606 959,610 964,612 970,614 976,617 982,618 986,614 990,612 995,615 1000,618 1007,619 1013,621 1018,625 1022,632 1028,641 1033,647 1040,652 1060,660 1090,663 1120,664 1121,678 1100,685 1060,700 1030,712 1000,725 993,732 988,728 982,732 975,725 940,712 900,700 860,688 830,680 818,678"/>
<g font-size="16" font-style="italic">
<text x="882" y="812" style="fill:#000">v<tspan font-size="10" dy="4">3</tspan></text>
<text x="911" y="822" style="fill:#000">v<tspan font-size="10" dy="4">2</tspan></text>
<text x="941" y="836" style="fill:#000">v<tspan font-size="10" dy="4">1</tspan></text>
</g>
<g font-size="12" text-anchor="middle">
<text transform="translate(817,820) rotate(28)">400</text>
<text transform="translate(845,835) rotate(28)">500</text>
<text transform="translate(882,850) rotate(28)">600</text>
<text transform="translate(925,868) rotate(28)">700</text>
<text transform="translate(972,886) rotate(28)">800</text>
<text transform="translate(1121,808) rotate(-60)">0</text>
<text transform="translate(1066,840) rotate(-60)">1</text>
<text transform="translate(999,884) rotate(-60)">0</text>
</g>
<text font-size="14" text-anchor="middle" transform="translate(862,866) rotate(25)">Raman shift (cm<tspan dy="-5" font-size="9">-1</tspan><tspan dy="5">)</tspan></text>
<text font-size="14" text-anchor="middle" transform="translate(1080,851) rotate(-31)">Potential (V)</text>
<text font-size="15.5" text-anchor="middle" transform="translate(803,712) rotate(90) scale(1,1.1)">Intensity (a.u.)</text>
</svg>
</body></html>
